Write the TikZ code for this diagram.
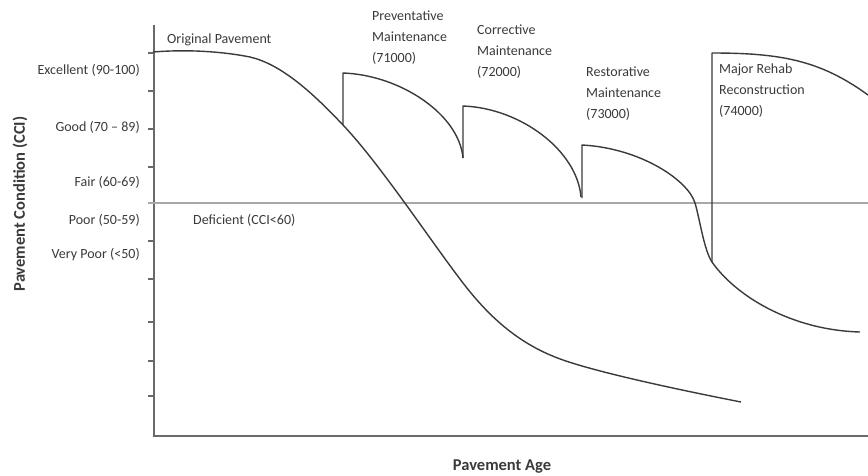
\documentclass[tikz,border=0pt]{standalone}
\usepackage{fontspec}
\setmainfont{Carlito}
\usepackage{tikz}
\usetikzlibrary{positioning}

\definecolor{inkgray}{HTML}{3A3A3A}
\definecolor{axgray}{HTML}{6A6A6A}
\definecolor{linegray}{HTML}{A8A8A8}

\begin{document}
\begin{tikzpicture}[
    x=1pt, y=-1pt,
    font=\fontsize{14}{21}\selectfont,
    lbl/.style={text=inkgray, inner sep=0pt, align=left},
    ylbl/.style={lbl, anchor=east},
    ttl/.style={text=inkgray, inner sep=0pt, font=\fontsize{16.5}{20}\selectfont\bfseries},
    ax/.style={draw=axgray, line width=2pt},
    crv/.style={draw=inkgray, line width=1.4pt, line join=round}
]
\useasboundingbox (0,0) rectangle (868,475);
% axes and ticks
\draw[ax] (154,25) -- (154,436) -- (868,436);
\foreach \y in {53,91,129,167,241,279,322,361,396}
   \draw[axgray, line width=1.2pt] (148,\y) -- (154,\y);
% deficiency threshold
\draw[linegray, line width=1.5pt] (148,203) -- (868,203);
% condition classes
\node[ylbl] (exc)   at (140,70)  {Excellent (90-100)};
\node[ylbl] (good)  at (140,127) {Good (70 -- 89)};
\node[ylbl] (fair)  at (140,182) {Fair (60-69)};
\node[ylbl] (poor)  at (140,220) {Poor (50-59)};
\node[ylbl] (vpoor) at (140,254) {Very Poor (<50)};
% axis titles
\node[ttl, rotate=90] (ytitle) at (20,204) {Pavement Condition (CCI)};
\node[ttl] (xtitle) at (502,467) {Pavement Age};
% curve labels
\node[lbl, anchor=west] (orig)  at (167,40)  {Original Pavement};
\node[lbl, anchor=west] (defic) at (193,220) {Deficient (CCI<60)};
\node[lbl, anchor=west] (prev)  at (372,38)  {Preventative\\Maintenance\\(71000)};
\node[lbl, anchor=west] (corr)  at (477,52)  {Corrective\\Maintenance\\(72000)};
\node[lbl, anchor=west] (rest)  at (586,94)  {Restorative\\Maintenance\\(73000)};
\node[lbl, anchor=west] (rehab) at (719,91)  {Major Rehab\\Reconstruction\\(74000)};
% original pavement deterioration
\draw[crv] (153,52) .. controls (190,49) and (225,52) .. (250,57)
   .. controls (280,64) and (310,90) .. (343,125)
   .. controls (380,164) and (430,240) .. (463,283)
   .. controls (490,318) and (520,345) .. (563,360)
   .. controls (600,373) and (680,390) .. (741,402);
% maintenance treatments
\draw[crv] (343,125) -- (343,73) .. controls (400,75) and (459,114) .. (463,158);
\draw[crv] (463,158) -- (463,106) .. controls (520,108) and (577,150) .. (581,197);
\draw[crv] (582,198) -- (582,145) .. controls (640,148) and (688,180) .. (695,203)
   .. controls (700,220) and (704,250) .. (712,262)
   .. controls (735,295) and (790,330) .. (860,332);
% reconstruction
\draw[crv] (712,262) -- (712,53) .. controls (780,53) and (820,60) .. (868,95);
\end{tikzpicture}
\end{document}
